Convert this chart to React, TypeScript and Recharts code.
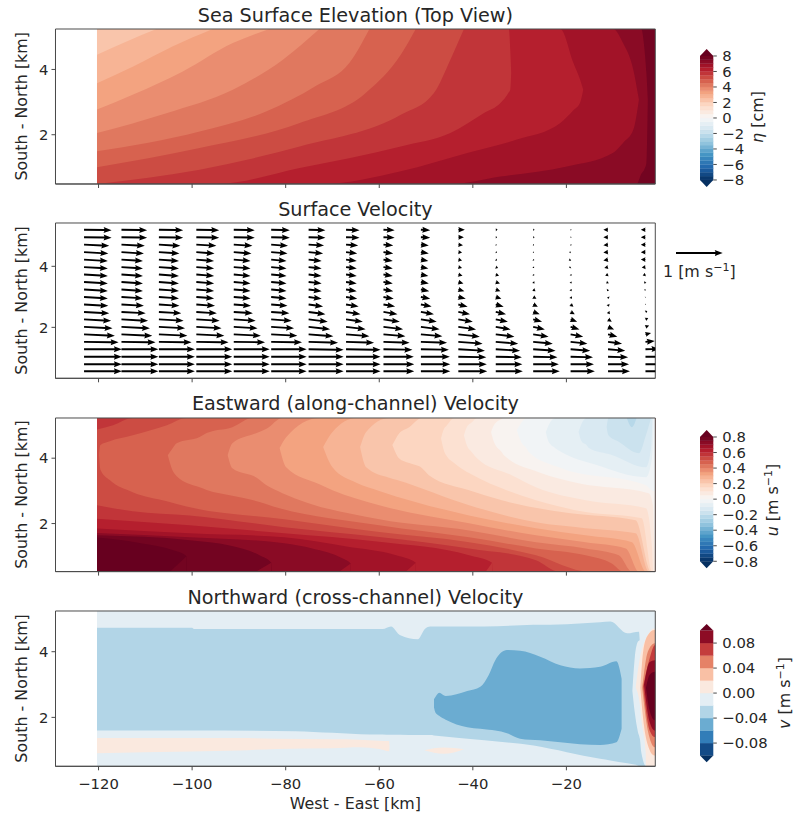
import React from 'react';
import { ComposedChart, Area, Scatter, XAxis, YAxis, ReferenceArea } from 'recharts';

type Row = [number, number, number];

// RdBu_r colormap anchors
const cmapAnchors = ['#053061', '#2166ac', '#4393c3', '#92c5de', '#d1e5f0', '#f7f7f7', '#fddbc7', '#f4a582', '#d6604d', '#b2182b', '#67001f'];
const xTicks = [-120, -100, -80, -60, -40, -20];
const XS = -120.33;

// ---- Sea surface elevation: region below each level, rows are [x km, lower y km, upper y km]
const T = 5.24;
const etaBase: Row[] = [[XS, 0.49, T], [-1, 0.49, T]];
const eta75: Row[] = [[XS, 0.49, T], [-5, 0.49, T], [-4, 0.8, T], [-3.3, 0.95, 4.6], [-2.9, 1.13, 3.9], [-2.6, 3.07, 3.07]];
const eta70: Row[] = [[XS, 0.49, T], [-44.8, 0.49, T], [-34.1, 0.72, T], [-19.9, 1.03, T], [-10, 1.45, T], [-7.9, 1.75, 4.81], [-5.7, 2.15, 3.99], [-4.5, 3.07, 3.07]];
const eta65: Row[] = [[XS, 0.49, T], [-72.1, 0.49, T], [-55.4, 0.88, T], [-41.2, 1.44, T], [-30.6, 1.85, T], [-21.3, 2.36, T], [-18.5, 2.75, 4.2], [-17.1, 2.97, 3.7], [-16.4, 3.38, 3.38]];
const eta60: Row[] = [[XS, 0.49, T], [-94.8, 0.49, T], [-77, 0.98, T], [-55.4, 1.64, T], [-44.8, 2.05, T], [-37.7, 2.66, T], [-34.1, 2.97, T], [-32.3, 3.3, T], [-32, 3.38, 4.6], [-31.8, 3.9, 3.9]];
const eta55: Row[] = [[XS, 0.49, T], [-98.4, 0.93, T], [-77, 1.64, T], [-55.4, 2.61, T], [-48.3, 3.28, T], [-44.8, 4.3, T], [-41.9, 5.24, T]];
const eta50: Row[] = [[XS, 1.0, T], [-98.4, 1.59, T], [-77, 2.36, T], [-62.9, 3.28, T], [-55.4, 4.45, T], [-52.2, 5.24, T]];
const eta45: Row[] = [[XS, 1.49, T], [-98.4, 2.1, T], [-84.2, 2.71, T], [-73.5, 3.5, T], [-66.4, 4.2, T], [-62.1, 5.24, T]];
const eta40: Row[] = [[XS, 2.05, T], [-105.5, 2.66, T], [-91.3, 3.38, T], [-80.6, 4.3, T], [-72.8, 5.24, T]];
const eta35: Row[] = [[XS, 2.77, T], [-112.6, 3.23, T], [-102, 3.94, T], [-91.3, 4.81, T], [-83.5, 5.24, T]];
const eta30: Row[] = [[XS, 3.58, T], [-112.6, 4.09, T], [-104.1, 4.71, T], [-95.6, 5.24, T]];
const eta25: Row[] = [[XS, 4.45, T], [-114, 4.86, T], [-107.6, 5.24, T]];
const etaBands: [number, Row[]][] = [[8, etaBase], [7.5, eta75], [7, eta70], [6.5, eta65], [6, eta60], [5.5, eta55], [5, eta50], [4.5, eta45], [4, eta40], [3.5, eta35], [3, eta30], [2.5, eta25]];

// ---- Eastward velocity
const B = 0.53;
const U = 5.23;
const uBase: Row[] = [[XS, B, U], [-1, B, U]];
const u80: Row[] = [[XS, 1.57, U], [-111, 1.4, U], [-104, 1.18, U], [-101.2, 1.0, U], [-101.1, B, U], [-1, B, U]];
const u80t: Row[] = [[-104.7, B, B], [-101.2, B, 1.0]];
const u75: Row[] = [[XS, 1.64, U], [-100.5, 1.49, U], [-92, 1.33, U], [-85.6, 1.03, U], [-83.1, 0.8, U], [-83, B, U], [-1, B, U]];
const u75t: Row[] = [[-86.3, B, B], [-83.1, B, 0.8]];
const u70: Row[] = [[XS, 1.71, U], [-100.5, 1.58, U], [-80.3, 1.4, U], [-74.3, 1.24, U], [-67.9, 0.94, U], [-66.1, 0.78, U], [-66, B, U], [-1, B, U]];
const u70t: Row[] = [[-68.5, B, B], [-66.1, B, 0.78]];
const u65: Row[] = [[XS, 1.85, U], [-100.5, 1.7, U], [-80.3, 1.58, U], [-67, 1.3, U], [-56.4, 1.03, U], [-52.2, 0.8, U], [-52.1, B, U], [-1, B, U]];
const u65t: Row[] = [[-54.3, B, B], [-52.2, B, 0.8]];
const u60: Row[] = [[XS, 2.15, U], [-100.5, 1.95, U], [-80.3, 1.7, U], [-60, 1.44, U], [-40.8, 1.03, U], [-35.9, 0.8, U], [-35.8, B, U], [-1, B, U]];
const u60t: Row[] = [[-37.2, B, B], [-35.9, B, 0.8]];
const u55: Row[] = [[XS, 2.56, 4.88], [-116.9, 2.47, 5.01], [-112.7, 2.38, U], [-100.5, 2.25, U], [-80.3, 1.89, U], [-60, 1.59, U], [-40.8, 1.24, U], [-26.5, 0.88, U], [-21.6, B, U], [-1, B, U]];
const u50: Row[] = [[-119.9, 4.1, 4.1], [-119.6, 3.65, 4.4], [-117.6, 3.33, 4.52], [-112.7, 2.96, 4.7], [-105.4, 2.68, 5.01], [-101.2, 2.52, U], [-80.3, 2.13, U], [-60, 1.74, U], [-40.8, 1.43, U], [-26.5, 1.03, U], [-15.2, B, U], [-1, B, U]];
const u45: Row[] = [[-105.2, 4.09, 4.09], [-104.2, 3.63, 4.3], [-103.3, 3.45, 4.46], [-98.4, 3.11, 4.65], [-96.9, 3.03, 4.77], [-91.4, 2.85, 4.95], [-87.1, 2.72, U], [-81.3, 2.47, U], [-60, 1.95, U], [-40.8, 1.58, U], [-26.5, 1.24, U], [-15.9, 1.03, U], [-10.3, 0.78, U], [-7.8, B, U], [-1, B, U]];
const u40: Row[] = [[-92.4, 4.09, 4.09], [-91.4, 3.69, 4.46], [-86.2, 3.4, 4.77], [-84.1, 3.17, 4.9], [-80.7, 2.93, U], [-60, 2.13, U], [-40.8, 1.79, U], [-26.5, 1.43, U], [-15.9, 1.24, U], [-8.8, 1.03, U], [-6, B, U], [-1, B, U]];
const u35: Row[] = [[-81.3, 4.31, 4.31], [-79.9, 3.72, 4.64], [-72.8, 3.2, U], [-70, 3.02, U], [-60, 2.56, U], [-40.8, 2.01, U], [-26.5, 1.64, U], [-15.9, 1.43, U], [-7.3, 1.24, U], [-4.5, B, U], [-1, B, U]];
const u30: Row[] = [[-72, 4.34, 4.34], [-70, 3.72, 4.8], [-64.9, 3.25, U], [-60, 3.0, U], [-40.8, 2.25, U], [-26.5, 1.86, U], [-15.9, 1.64, U], [-6, 1.43, U], [-3, B, U], [-1, B, U]];
const u25: Row[] = [[-64.1, 4.34, 4.34], [-62.8, 3.72, 4.8], [-57.9, 3.4, U], [-56.2, 3.33, U], [-40.8, 2.56, U], [-26.5, 2.04, U], [-15.9, 1.86, U], [-5.2, 1.7, U], [-2.4, B, U], [-1, B, U]];
const u20: Row[] = [[-57.2, 4.4, 4.4], [-55.8, 4.0, 4.75], [-53.6, 3.85, 4.95], [-50.9, 3.7, U], [-49.4, 3.48, U], [-40.8, 3.02, U], [-33.8, 2.71, U], [-19.5, 2.32, U], [-5.2, 2.1, U], [-1.9, B, U], [-1, B, U]];
const u15: Row[] = [[-46.8, 4.61, 4.61], [-46.1, 4.2, 4.92], [-45.7, 4.09, 4.98], [-44, 3.85, U], [-38.7, 3.39, U], [-33.8, 3.08, U], [-26.5, 2.71, U], [-15.9, 2.35, U], [-3.9, 2.16, U], [-1.7, B, U], [-1, B, U]];
const u10: Row[] = [[-41.9, 4.7, 4.7], [-41.3, 4.4, 4.95], [-40.2, 4.18, 5.1], [-39.1, 4.0, U], [-31.7, 3.48, U], [-26.5, 3.11, U], [-15.9, 2.71, U], [-3, 2.47, U], [-1.7, 1.27, U], [-1.4, B, U], [-1, B, U]];
const u05: Row[] = [[-36.1, 4.8, 4.8], [-35.5, 4.5, 5.01], [-33.8, 4.18, 5.2], [-33.4, 4.1, U], [-25.9, 3.57, U], [-17.4, 3.23, U], [-2.4, 2.93, U], [-1.5, 2.56, U], [-1.2, 1.2, U], [-1, B, U]];
const u00: Row[] = [[-30.6, 4.86, 4.86], [-29.7, 4.5, 5.07], [-28.5, 4.3, U], [-28, 4.18, U], [-21, 3.69, U], [-3, 3.17, U], [-1.5, 3.0, U], [-1.1, 3.0, U]];
const un05: Row[] = [[-24.4, 4.8, 4.8], [-23.8, 4.5, 5.01], [-22.3, 4.3, U], [-21, 4.18, U], [-13.7, 3.8, U], [-3, 3.42, U], [-1.7, 4.0, U], [-1.4, 4.9, U]];
const un10: Row[] = [[-17.4, 4.8, 4.8], [-16.7, 4.5, 5.07], [-15.7, 4.4, U], [-15.2, 4.31, U], [-10.3, 4.1, U], [-3, 3.72, U], [-1.9, 4.31, U], [-1.6, 5.23, U]];
const un15: Row[] = [[-11.4, 4.95, 4.95], [-11, 4.7, U], [-8.8, 4.5, U], [-4.5, 4.15, U], [-3, 4.7, U], [-1.9, 5.23, U]];
const un20: Row[] = [[-7.1, 5.23, 5.23], [-6, 4.95, 5.23], [-5, 5.23, 5.23]];
const uBands: [number, Row[]][] = [
  [0.85, uBase], [0.8, u80], [0.8, u80t], [0.75, u75], [0.75, u75t], [0.7, u70], [0.7, u70t], [0.65, u65], [0.65, u65t], [0.6, u60], [0.6, u60t],
  [0.55, u55], [0.5, u50], [0.45, u45], [0.4, u40], [0.35, u35], [0.3, u30], [0.25, u25], [0.2, u20], [0.15, u15], [0.1, u10], [0.05, u05], [0, u00], [-0.05, un05], [-0.1, un10], [-0.15, un15], [-0.2, un20],
];

// ---- Northward velocity
const V = 5.24;
const vBase: Row[] = [[XS, 0.5, V], [-1, 0.5, V]];
const vBlue: Row[] = [[XS, 1.6, 4.73], [-100, 1.6, 4.73], [-99.6, 1.6, 4.69], [-78, 1.58, 4.69], [-70, 1.53, 4.69], [-62, 1.48, 4.69], [-59.3, 1.48, 4.69], [-57.5, 1.47, 4.77], [-55.5, 1.47, 4.5], [-51.8, 1.46, 4.38], [-50.2, 1.46, 4.7], [-49.1, 1.46, 4.77], [-48.3, 1.45, 4.77], [-37.5, 1.3, 4.77], [-27, 1.14, 4.82], [-19.9, 0.94, 4.84], [-12.8, 0.74, 4.9], [-10.6, 0.69, 4.92], [-7, 0.6, 4.56], [-4.5, 0.52, 4.61], [-4.3, 0.5, 4.35], [-2.9, 0.5, 0.5]];
const vDeep: Row[] = [[-48.3, 2.3, 2.55], [-48, 2.15, 2.62], [-47.2, 2.05, 2.75], [-45.8, 1.93, 2.65], [-41.2, 1.7, 2.8], [-38.4, 1.65, 2.93], [-36.6, 1.62, 3.29], [-35.2, 1.6, 3.74], [-32.7, 1.52, 4.05], [-29.9, 1.35, 4.03], [-25.6, 1.3, 3.85], [-21.3, 1.24, 3.59], [-17.1, 1.18, 3.49], [-12.8, 1.16, 3.54], [-9.3, 1.24, 3.71], [-8.2, 1.65, 3.18]];
const vPeach: Row[] = [[XS, 0.91, 1.37], [-100.2, 0.96, 1.37], [-89.9, 0.99, 1.37], [-82, 1.04, 1.35], [-70, 1.06, 1.33], [-64.3, 1.09, 1.32], [-60, 1.04, 1.29], [-57.9, 0.97, 1.28], [-57.8, 1.1, 1.1]];
const vPeachBlob: Row[] = [[-50.4, 1.0, 1.0], [-46.2, 0.89, 1.08], [-41.9, 1.03, 1.03]];
const vWall0: Row[] = [[-5.9, 2.8, 2.8], [-5.4, 2.16, 3.8], [-4.7, 1.55, 4.31], [-4.3, 1.35, 4.36], [-4.25, 1.3, V], [-4, 0.94, V], [-2.9, 0.5, V], [-1, 0.5, V]];
const vWall1: Row[] = [[-5.2, 2.9, 2.9], [-4.3, 2.4, 3.8], [-4, 1.96, 4.0], [-3.05, 0.94, 4.4], [-3, 0.5, 4.42], [-2.6, 0.5, 4.51], [-1.35, 0.5, 4.71], [-1, 0.5, 4.71]];
const vWall2: Row[] = [[-4.2, 2.9, 2.9], [-3.6, 1.96, 4.0], [-2.6, 1.16, 4.5], [-1.2, 0.84, 4.66], [-1, 0.84, 4.66]];
const vWall3: Row[] = [[-3.8, 2.9, 2.9], [-2.6, 1.6, 4.0], [-1.1, 1.09, 4.26], [-1, 1.09, 4.26]];
const vWall4: Row[] = [[-3.6, 2.95, 2.95], [-2.2, 1.6, 3.8], [-1.1, 1.4, 4.2], [-1, 1.4, 4.2]];
const vWall5: Row[] = [[-3.4, 3.0, 3.0], [-2.2, 1.86, 3.69], [-1.1, 1.6, 3.74], [-1, 1.6, 3.74]];
const vWall6: Row[] = [[-3, 2.9, 2.9], [-2.2, 2.2, 3.3], [-1.1, 1.91, 3.39], [-1, 1.91, 3.39]];
const vBands: [number, Row[]][] = [[0, vBase], [-0.02, vBlue], [-0.04, vDeep], [0.02, vPeach], [0.02, vPeachBlob], [0, vWall0], [0.02, vWall1], [0.04, vWall2], [0.06, vWall3], [0.08, vWall4], [0.1, vWall5], [0.12, vWall6]];

// ---- Surface velocity vectors
const columnX = [-123.1, -115.1, -107.1, -99.1, -91.1, -83.1, -75.1, -67.1, -59.1, -51.1, -43.1, -35.1, -27.1, -19.1, -11.1, -3.1];
const rowY = [5.2, 4.955, 4.71, 4.465, 4.22, 3.975, 3.73, 3.485, 3.24, 2.995, 2.75, 2.505, 2.26, 2.015, 1.77, 1.525, 1.28, 1.035, 0.79, 0.56];
const uCols = [
  [.59, .59, .54, .52, .51, .51, .51, .51, .51, .51, .52, .54, .58, .61, .66, .74, .81, .81, .81, .81],
  [.55, .55, .5, .48, .46, .46, .46, .46, .46, .46, .48, .52, .57, .61, .66, .73, .79, .79, .79, .79],
  [.52, .52, .46, .44, .43, .43, .43, .43, .43, .43, .44, .48, .53, .56, .61, .7, .77, .77, .77, .77],
  [.49, .49, .43, .39, .38, .38, .38, .38, .38, .38, .4, .44, .5, .54, .6, .69, .77, .77, .77, .77],
  [.45, .45, .4, .38, .36, .36, .36, .36, .36, .36, .37, .41, .47, .51, .58, .67, .77, .77, .77, .77],
  [.4, .4, .36, .35, .33, .33, .33, .33, .33, .33, .35, .39, .44, .49, .56, .66, .76, .76, .76, .76],
  [.36, .36, .33, .31, .28, .28, .28, .28, .28, .28, .31, .36, .41, .46, .53, .63, .75, .75, .75, .75],
  [.29, .29, .26, .24, .23, .23, .23, .23, .23, .24, .27, .31, .36, .42, .5, .6, .74, .74, .74, .74],
  [.24, .24, .21, .21, .2, .2, .2, .2, .21, .22, .25, .3, .35, .42, .47, .56, .62, .65, .66, .66],
  [.2, .2, .17, .17, .16, .16, .16, .17, .18, .2, .23, .28, .34, .4, .46, .56, .6, .62, .63, .63],
  [.14, .12, .1, .08, .08, .08, .09, .11, .13, .16, .2, .25, .31, .38, .46, .52, .57, .6, .61, .62],
  [.04, .03, .02, .03, .03, .05, .07, .09, .1, .12, .17, .22, .26, .32, .4, .48, .52, .56, .57, .58],
  [.03, .03, .02, .02, .02, .02, .02, .03, .05, .07, .1, .14, .19, .25, .33, .42, .48, .52, .55, .57],
  [.02, .02, .02, -.03, -.04, -.03, .02, .02, .02, .03, .06, .09, .14, .19, .27, .36, .42, .48, .5, .52],
  [-.1, -.1, -.1, -.1, -.1, -.08, -.06, -.04, -.02, .02, .02, .04, .08, .13, .2, .3, .37, .43, .45, .47],
  [-.1, -.1, -.1, -.1, -.1, -.08, -.06, -.03, -.02, -.01, .01, .04, .06, .08, .12, .2, .3, .38, .42, .45],
];
const vWest = [-.01, -.01, -.025, -.03, -.03, -.03, -.03, -.03, -.03, -.03, -.03, -.03, -.03, -.03, -.03, -.01, 0, 0, 0, 0];
const vMid = [-.01, -.01, -.02, -.03, -.03, -.03, -.03, -.03, -.035, -.04, -.045, -.05, -.05, -.05, -.04, -.02, -.01, 0, 0, 0];
const vEast = [0, 0, -.01, -.01, -.02, -.02, -.025, -.03, -.035, -.04, -.05, -.05, -.05, -.055, -.05, -.04, -.03, -.01, 0, 0];
const vLast = [0, 0, 0, 0, 0, -.01, -.02, -.03, -.02, -.01, .01, .02, .03, .03, .03, .02, .01, 0, 0, 0];
const vCols = [vWest, vWest, vWest, vWest, vWest, vWest, vMid, vMid, vMid, vMid, vEast, vEast, vEast, vEast, vEast, vLast];
const quiverKey = [{ x: 0, y: 0.5, u: 1, v: 0 }];

// ---- Colour bar ticks
const etaTicks = [-8, -6, -4, -2, 0, 2, 4, 6, 8];
const uTicks = [-0.8, -0.6, -0.4, -0.2, 0, 0.2, 0.4, 0.6, 0.8];
const vTicks = [-0.08, -0.04, 0, 0.04, 0.08];
const etaEdges = [-8, -7.5, -7, -6.5, -6, -5.5, -5, -4.5, -4, -3.5, -3, -2.5, -2, -1.5, -1, -0.5, 0, 0.5, 1, 1.5, 2, 2.5, 3, 3.5, 4, 4.5, 5, 5.5, 6, 6.5, 7, 7.5, 8];
const uEdges = [-0.8, -0.75, -0.7, -0.65, -0.6, -0.55, -0.5, -0.45, -0.4, -0.35, -0.3, -0.25, -0.2, -0.15, -0.1, -0.05, 0, 0.05, 0.1, 0.15, 0.2, 0.25, 0.3, 0.35, 0.4, 0.45, 0.5, 0.55, 0.6, 0.65, 0.7, 0.75, 0.8];
const vEdges = [-0.1, -0.08, -0.06, -0.04, -0.02, 0, 0.02, 0.04, 0.06, 0.08, 0.1];

const INK = '#262626';
const SPINE = '#4a4a4a';
const FONT = '"DejaVu Sans", sans-serif';
const TICK_FS = 14.8;
const LABEL_FS = 15.9;
const arrowScale = 46.7;

function rdbu(t: number) {
  const c = Math.max(0, Math.min(1, t)) * 10;
  const i = Math.min(9, Math.floor(c));
  const f = c - i;
  const p = (h: string) => [1, 3, 5].map((k) => parseInt(h.slice(k, k + 2), 16));
  const a = p(cmapAnchors[i]);
  const b = p(cmapAnchors[i + 1]);
  return `rgb(${a.map((v, k) => Math.round(v + (b[k] - v) * f)).join(',')})`;
}

const asData = (rows: Row[]) => rows.map(([x, lo, hi]) => ({ x, r: [lo, hi] }));
const minus = (v: number | string) => String(v).replace('-', '\u2212');

function Arrow(props: any) {
  const { cx, cy, payload } = props;
  const L = Math.hypot(payload.u, payload.v) * arrowScale;
  const ang = (Math.atan2(-payload.v, payload.u) * 180) / Math.PI;
  const k = Math.min(1, L / 8);
  const hl = 8 * k;
  const hw = 3 * Math.sqrt(k);
  const sw = 0.95 * Math.max(k, 0.5);
  const notch = hl * 0.9;
  const pts = [[0, -sw], [L - notch, -sw], [L - hl, -hw], [L, 0], [L - hl, hw], [L - notch, sw], [0, sw]];
  return <polygon points={pts.map((p) => p.join(',')).join(' ')} transform={`translate(${cx},${cy}) rotate(${ang})`} fill="#000" />;
}

const PLOT_LEFT = 55.5;
const PLOT_W = 599.8;
const MT = 8;

function Panel({ top, height, domain, yTicks, children, xLabels }: any) {
  const hx = xLabels ? 47 : 8;
  return (
    <div style={{ position: 'absolute', left: 0, top: top - MT }}>
      <ComposedChart width={PLOT_LEFT + PLOT_W + 2} height={MT + height + hx} margin={{ top: MT, right: 2, bottom: 0, left: 0 }}>
        <XAxis
          dataKey="x"
          type="number"
          domain={[-129.2, -1]}
          ticks={xTicks}
          allowDataOverflow
          height={hx}
          tickSize={4}
          tickMargin={8}
          tick={{ fill: INK, fontSize: TICK_FS, fontFamily: FONT }}
          tickLine={{ stroke: SPINE }}
          axisLine={{ stroke: SPINE }}
          tickFormatter={xLabels ? minus : () => ''}
          interval={0}
          allowDuplicatedCategory={false}
          label={xLabels ? { value: 'West - East [km]', position: 'insideBottom', offset: 4, fill: INK, fontSize: LABEL_FS, fontFamily: FONT } : undefined}
        />
        <YAxis
          type="number"
          width={PLOT_LEFT}
          domain={domain}
          ticks={yTicks}
          allowDataOverflow
          tickSize={4}
          tickMargin={3}
          tick={{ fill: INK, fontSize: TICK_FS, fontFamily: FONT }}
          tickLine={{ stroke: SPINE }}
          axisLine={{ stroke: SPINE }}
          interval={0}
          label={{ value: 'South - North [km]', angle: -90, position: 'insideLeft', offset: 21, dy: 74, fill: INK, fontSize: LABEL_FS, fontFamily: FONT }}
        />
        {children}
        <ReferenceArea x1={-129.2} x2={-1} y1={domain[0]} y2={domain[1]} fill="none" stroke={SPINE} strokeWidth={1} ifOverflow="visible" />
      </ComposedChart>
    </div>
  );
}

const bandAreas = (bands: [number, Row[]][], colorOf: (l: number) => string) =>
  bands.map(([level, rows], i) => (
    <Area key={i} data={asData(rows)} dataKey="r" type="monotone" fill={colorOf(level)} fillOpacity={1} stroke="none" isAnimationActive={false} dot={false} activeDot={false} legendType="none" />
  ));

function ColorBar({ top, height, edges, ticks, fmt, ext, tint, x }: any) {
  const lo = edges[0];
  const hi = edges[edges.length - 1];
  const MTC = 12;
  const pad = ext;
  const pxPerUnit = height / (hi - lo);
  const padPx = pad * pxPerUnit;
  return (
    <div style={{ position: 'absolute', left: x, top: top - MTC - padPx }}>
      <ComposedChart width={94} height={height + 2 * padPx + 2 * MTC} margin={{ top: MTC, right: 0, bottom: MTC, left: 0 }}>
        <XAxis dataKey="x" type="number" domain={[0, 1]} hide />
        <YAxis
          yAxisId="c"
          orientation="right"
          type="number"
          domain={[lo - pad, hi + pad]}
          ticks={ticks}
          width={80.7}
          interval={0}
          axisLine={false}
          tickSize={3.5}
          tickMargin={5.5}
          tick={{ fill: INK, fontSize: TICK_FS, fontFamily: FONT, textAnchor: 'start' }}
          tickLine={{ stroke: SPINE }}
          tickFormatter={fmt}
        />
        {edges.slice(0, -1).map((e: number, i: number) => (
          <Area key={i} yAxisId="c" data={asData([[0, e, edges[i + 1]], [1, e, edges[i + 1]]])} dataKey="r" type="linear" fill={tint((e + edges[i + 1]) / 2)} fillOpacity={1} stroke={tint((e + edges[i + 1]) / 2)} strokeWidth={0.3} isAnimationActive={false} dot={false} activeDot={false} legendType="none" />
        ))}
        <Area yAxisId="c" data={asData([[0, hi, hi], [0.5, hi, hi + pad], [1, hi, hi]])} dataKey="r" type="linear" fill="#67001f" fillOpacity={1} stroke="none" isAnimationActive={false} dot={false} activeDot={false} legendType="none" />
        <Area yAxisId="c" data={asData([[0, lo, lo], [0.5, lo - pad, lo], [1, lo, lo]])} dataKey="r" type="linear" fill="#053061" fillOpacity={1} stroke="none" isAnimationActive={false} dot={false} activeDot={false} legendType="none" />
      </ComposedChart>
    </div>
  );
}

const Title = ({ top, children }: any) => (
  <div style={{ position: 'absolute', left: PLOT_LEFT, width: PLOT_W, top, textAlign: 'center', fontFamily: FONT, fontSize: 19.2, color: INK, lineHeight: '22px', whiteSpace: 'nowrap' }}>{children}</div>
);

const BarLabel = ({ x, y, children }: any) => (
  <div style={{ position: 'absolute', left: x, top: y, transform: 'translate(-50%,-50%) rotate(-90deg)', fontFamily: FONT, fontSize: LABEL_FS, color: INK, whiteSpace: 'nowrap', lineHeight: '18px' }}>{children}</div>
);

const vectorData = columnX.flatMap((x, c) => rowY.map((y, r) => ({ x, y, u: uCols[c][r], v: vCols[c][r] })));

export default function App() {
  return (
    <div style={{ position: 'absolute', left: 0, top: 0, width: 794, height: 814, overflow: 'hidden', background: '#fff' }}>
      <Title top={5}>Sea Surface Elevation (Top View)</Title>
      <Panel top={29.3} height={155} domain={[0.49, 5.24]} yTicks={[2, 4]}>
        {bandAreas(etaBands, (l) => rdbu((l - 0.25 + 8) / 16))}
      </Panel>
      <ColorBar top={56} height={124} x={700} edges={etaEdges} ticks={etaTicks} ext={0.9} fmt={minus} tint={(m: number) => rdbu((m + 8) / 16)} />
      <BarLabel x={758} y={117}><i>η</i> [cm]</BarLabel>

      <Title top={199}>Surface Velocity</Title>
      <Panel top={222.7} height={155.3} domain={[0.33, 5.42]} yTicks={[2, 4]}>
        <Scatter data={vectorData} dataKey="y" shape={Arrow} isAnimationActive={false} legendType="none" />
      </Panel>
      <div style={{ position: 'absolute', left: 676, top: 245 }}>
        <ComposedChart width={60} height={16} margin={{ top: 0, right: 0, bottom: 0, left: 0 }}>
          <XAxis dataKey="x" type="number" domain={[0, 1]} hide />
          <YAxis type="number" domain={[0, 1]} hide />
          <Scatter data={quiverKey} dataKey="y" shape={Arrow} isAnimationActive={false} legendType="none" />
        </ComposedChart>
      </div>
      <div style={{ position: 'absolute', left: 663, top: 263, fontFamily: FONT, fontSize: LABEL_FS, color: INK, whiteSpace: 'nowrap', lineHeight: '18px' }}>
        1 [m s<sup style={{ fontSize: 11, lineHeight: 0 }}>−1</sup>]
      </div>

      <Title top={393}>Eastward (along-channel) Velocity</Title>
      <Panel top={417.7} height={153.6} domain={[0.53, 5.23]} yTicks={[2, 4]}>
        {bandAreas(uBands, (l) => (l > 0.8 ? '#67001f' : rdbu((l - 0.025 + 0.8) / 1.6)))}
      </Panel>
      <ColorBar top={436.7} height={124.3} x={700} edges={uEdges} ticks={uTicks} ext={0.09} fmt={(v: number) => minus(v.toFixed(1))} tint={(m: number) => rdbu((m + 0.8) / 1.6)} />
      <BarLabel x={773} y={500}><i>u</i> [m s<sup style={{ fontSize: 11, lineHeight: 0 }}>−1</sup>]</BarLabel>

      <Title top={587}>Northward (cross-channel) Velocity</Title>
      <Panel top={611} height={155.3} domain={[0.51, 5.24]} yTicks={[2, 4]} xLabels>
        {bandAreas(vBands, (l) => (l > 0.1 ? '#67001f' : rdbu((l - 0.01 + 0.1) / 0.2)))}
      </Panel>
      <ColorBar top={630.8} height={125} x={700} edges={vEdges} ticks={vTicks} ext={0.0105} fmt={(v: number) => minus(v.toFixed(2))} tint={(m: number) => rdbu((m + 0.1) / 0.2)} />
      <BarLabel x={785} y={693}><i>v</i> [m s<sup style={{ fontSize: 11, lineHeight: 0 }}>−1</sup>]</BarLabel>
    </div>
  );
}
